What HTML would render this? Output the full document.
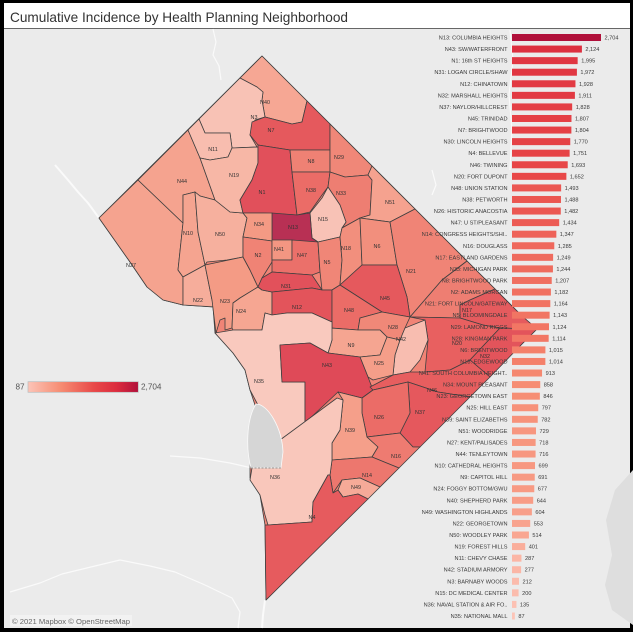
<!DOCTYPE html>
<html><head><meta charset="utf-8"><style>
html,body{margin:0;padding:0;background:#000;}
svg{display:block;}
.l{font-family:"Liberation Sans",Arial,sans-serif;font-size:5.6px;fill:#3a3a3a;text-anchor:end;}
.v{font-family:"Liberation Sans",Arial,sans-serif;font-size:5.6px;fill:#3a3a3a;}
.m{font-family:"Liberation Sans",Arial,sans-serif;font-size:5.4px;fill:#333;text-anchor:middle;}
</style></head><body>
<svg width="633" height="632" viewBox="0 0 633 632" xmlns="http://www.w3.org/2000/svg">
<defs>
<linearGradient id="lg" x1="0" x2="1" y1="0" y2="0">
<stop offset="0" stop-color="#fcc4b7"/><stop offset="0.3" stop-color="#f68c72"/><stop offset="0.6" stop-color="#e84848"/><stop offset="0.8" stop-color="#dc2c3e"/><stop offset="1" stop-color="#b0103a"/>
</linearGradient>
</defs>
<rect x="0" y="0" width="633" height="632" fill="#000"/>
<rect x="4" y="3" width="626" height="25" fill="#fff"/>
<rect x="4" y="28" width="626" height="1" fill="#666"/>
<rect x="4" y="29" width="626" height="599" fill="#ebebeb"/>
<text x="10" y="21.8" font-family="Liberation Sans, Arial, sans-serif" font-size="13.6" fill="#333" textLength="338" lengthAdjust="spacingAndGlyphs">Cumulative Incidence by Health Planning Neighborhood</text>

<!-- background features -->
<g fill="none" stroke="#fafafa" stroke-width="1.2" stroke-linejoin="round">
<path d="M213,29 L216,42 L213,55 L219,66 L221,80"/>
<path d="M55,165 L68,180 L78,192 L88,203 L99,218" stroke-width="2"/>
<path d="M10,592 L40,583 L62,574 L95,566 L120,560 L150,566 L175,572 L205,585 L232,598 L240,612 L238,628"/>
<path d="M170,456 L200,458 L230,463 L252,468"/>
<path d="M265,600 L263,615 L262,628" stroke-width="2"/>
<path d="M510,30 L513,60 L509,95 L512,130 L510,170"/>
<path d="M432,170 L436,185 L432,195"/>
</g>
<path d="M633,470 L615,490 L606,520 L612,555 L605,585 L612,610 L633,625 Z" fill="#dedede"/>

<!-- map -->
<g opacity="0.85" stroke="#222" stroke-width="0.8" stroke-linejoin="round">
<path d="M262,56 L522,316 L537,329 L522,344 L266,600 L265,525 L260,495 L250,478 L250,468 L252,440 L255,405 L250,390 L245,370 L233,353 L215,333 L213,307 L183,305 L163,300 L147,287 L130,262 L99,218 Z" fill="#f17362"/>
<polygon fill="#f7977f" points="99,218 138,180 183,223 178,270 183,277 183,305 163,300 147,287 130,262"/>
<polygon fill="#f79780" points="138,180 188,130 200,158 215,200 200,196 195,192 183,195 183,223"/>
<polygon fill="#f79881" points="183,195 195,192 198,232 205,265 183,277 178,270 183,223"/>
<polygon fill="#f9a691" points="195,192 200,196 215,200 230,212 243,213 247,218 243,237 243,257 227,260 207,262 205,265 198,232"/>
<polygon fill="#f8a38e" points="183,277 205,265 212,300 216,307 183,305"/>
<polygon fill="#f68e74" points="205,265 243,257 250,270 258,287 240,298 233,303 232,328 225,330 225,318 220,320 216,333 212,300"/>
<polygon fill="#f89a83" points="240,298 258,287 262,290 272,292 272,315 265,313 262,330 233,330 232,328 233,303"/>
<polygon fill="#f89c86" points="262,56 307,101 302,122 292,124 265,117 262,100 263,92 257,87 240,78"/>
<polygon fill="#fbbbac" points="240,78 257,87 263,92 262,100 265,117 255,120 250,135 257,147 232,148 230,133 205,133 199,119"/>
<polygon fill="#fbb6a5" points="188,130 199,119 205,133 230,133 232,148 228,157 210,160 200,158"/>
<polygon fill="#faae9b" points="200,158 210,160 228,157 232,148 258,147 258,163 252,180 240,200 243,213 230,212 215,200"/>
<polygon fill="#e54045" points="252,122 265,117 292,124 302,122 307,101 330,124 330,150 307,150 290,150 258,145 250,135"/>
<polygon fill="#e03642" points="258,145 290,150 292,172 297,215 263,213 243,213 240,200 252,180 258,163"/>
<polygon fill="#f06f60" points="290,150 307,150 330,150 330,172 292,172"/>
<polygon fill="#eb5751" points="292,172 330,172 328,187 322,195 310,212 297,215"/>
<polygon fill="#f27664" points="330,124 372,166 368,175 345,177 330,172 330,150"/>
<polygon fill="#ef6c5e" points="330,172 345,177 368,175 372,180 370,215 360,218 342,228 346,222 340,205 328,187"/>
<polygon fill="#f7967f" points="372,166 415,209 390,222 360,218 370,215 372,180 368,175"/>
<polygon fill="#fbbcad" points="310,213 322,198 328,187 340,205 346,222 342,228 340,237 318,242 312,238"/>
<polygon fill="#b0103a" points="272,213 297,215 310,213 312,238 318,242 272,241"/>
<polygon fill="#f68d73" points="243,213 272,213 272,241 243,237 247,218"/>
<polygon fill="#f17161" points="243,237 272,241 272,262 262,278 258,287 250,270 243,257"/>
<polygon fill="#f58870" points="272,240 292,240 292,260 272,260"/>
<polygon fill="#ec5b54" points="292,240 318,242 320,272 312,275 272,272 272,260 292,260"/>
<polygon fill="#f17563" points="318,242 340,237 342,260 340,285 332,290 322,290 320,272"/>
<polygon fill="#f4806a" points="342,228 360,218 362,265 340,285 342,260 340,237"/>
<polygon fill="#f4806a" points="360,218 390,222 397,265 362,265"/>
<polygon fill="#f17362" points="390,222 415,209 467,261 442,280 410,317 407,297 397,265"/>
<polygon fill="#e13742" points="258,287 262,278 272,272 312,275 322,290 312,288 272,292 262,290"/>
<polygon fill="#e23a43" points="272,292 312,288 322,290 332,290 332,322 312,313 287,313 272,315"/>
<polygon fill="#e54045" points="340,285 362,265 397,265 407,297 410,317 382,312"/>
<polygon fill="#eb5651" points="332,290 340,285 382,312 360,318 358,330 332,328"/>
<polygon fill="#f27765" points="382,312 410,317 405,328 400,340 387,337 380,330 358,330 360,318"/>
<polygon fill="#ef6b5e" points="467,261 495,289 470,300 460,305 460,318 410,317 442,280"/>
<polygon fill="#e54246" points="495,289 522,316 537,329 500,328 483,325 460,318 460,305 470,300"/>
<polygon fill="#e84848" points="410,317 460,318 483,325 500,328 470,360 450,370 425,372 428,340 425,320"/>
<polygon fill="#e23a43" points="500,328 537,329 522,344 490,377 470,360"/>
<polygon fill="#fbb6a6" points="405,328 425,320 428,340 420,360 410,372 393,375 395,355 400,340"/>
<polygon fill="#f79982" points="330,328 358,330 380,330 387,337 380,355 360,357 328,353 332,340"/>
<polygon fill="#f79179" points="360,357 380,355 387,337 400,340 395,355 393,375 373,380 368,377"/>
<polygon fill="#fcc4b7" points="215,333 233,330 262,330 265,313 272,315 287,313 312,313 332,322 332,340 328,353 310,343 280,345 282,382 305,382 305,423 280,440 280,468 252,468 255,440 258,405 250,390 245,370 233,353"/>
<polygon fill="#dd2f3f" points="280,345 310,343 328,353 360,357 368,377 373,390 362,398 338,392 305,423 305,382 282,382"/>
<polygon fill="#e74647" points="370,387 393,375 410,372 425,372 450,370 470,360 490,377 470,397 438,392 408,382 373,390"/>
<polygon fill="#e43f45" points="408,382 438,392 470,397 420,447 413,447 400,433 410,413"/>
<polygon fill="#eb5751" points="362,398 373,390 408,382 410,413 400,433 367,437 362,413"/>
<polygon fill="#f7927a" points="338,392 362,398 362,413 367,437 378,447 372,457 332,460 332,443 340,430 343,400"/>
<polygon fill="#ef685c" points="367,437 400,433 413,447 420,447 399,468 372,457 378,447"/>
<polygon fill="#ee6359" points="332,460 372,457 399,468 380,487 360,478 342,480 333,493 330,475"/>
<polygon fill="#f89f8a" points="342,480 360,478 380,487 368,499 358,494 343,497 338,490"/>
<polygon fill="#fcc1b3" points="280,440 337,398 343,400 340,430 332,443 332,460 330,475 328,475 313,502 312,522 268,525 265,515 260,495 250,480 252,468 280,468"/>
<polygon fill="#e64346" points="268,525 312,522 313,502 328,475 330,475 333,493 338,490 343,497 358,494 368,499 266,600 265,525"/>
</g>
<path d="M256,404 C268,404 282,428 283,452 L281,468 L251,468 C246,450 246,420 256,404 Z" fill="#d6d6d6" stroke="#fafafa" stroke-width="0.8"/>
<path d="M251,468 L281,468" stroke="#555" stroke-width="0.6" stroke-dasharray="2,1.5"/>

<!-- map labels -->
<g class="mlab">
<text class="m" x="265" y="104">N40</text><text class="m" x="254" y="119">N3</text><text class="m" x="271" y="132">N7</text>
<text class="m" x="213" y="151">N11</text><text class="m" x="339" y="159">N29</text><text class="m" x="311" y="163">N8</text>
<text class="m" x="234" y="177">N19</text><text class="m" x="182" y="183">N44</text><text class="m" x="262" y="194">N1</text>
<text class="m" x="311" y="192">N38</text><text class="m" x="341" y="195">N33</text><text class="m" x="390" y="204">N51</text>
<text class="m" x="188" y="235">N10</text><text class="m" x="220" y="236">N50</text><text class="m" x="259" y="226">N34</text>
<text class="m" x="293" y="229">N13</text><text class="m" x="323" y="221">N15</text><text class="m" x="131" y="267">N27</text>
<text class="m" x="258" y="257">N2</text><text class="m" x="279" y="251">N41</text><text class="m" x="302" y="257">N47</text>
<text class="m" x="327" y="264">N5</text><text class="m" x="346" y="250">N18</text><text class="m" x="377" y="248">N6</text>
<text class="m" x="411" y="273">N21</text><text class="m" x="198" y="302">N22</text><text class="m" x="225" y="303">N23</text>
<text class="m" x="241" y="313">N24</text><text class="m" x="286" y="288">N31</text><text class="m" x="297" y="309">N12</text>
<text class="m" x="385" y="300">N45</text><text class="m" x="349" y="312">N48</text><text class="m" x="393" y="329">N28</text>
<text class="m" x="401" y="341">N42</text><text class="m" x="351" y="347">N9</text><text class="m" x="379" y="365">N25</text>
<text class="m" x="327" y="367">N43</text><text class="m" x="457" y="345">N20</text><text class="m" x="485" y="358">N32</text>
<text class="m" x="467" y="312">N17</text><text class="m" x="259" y="383">N35</text><text class="m" x="275" y="479">N36</text>
<text class="m" x="350" y="432">N39</text><text class="m" x="379" y="419">N26</text><text class="m" x="420" y="414">N37</text>
<text class="m" x="432" y="392">N46</text><text class="m" x="396" y="458">N16</text><text class="m" x="367" y="477">N14</text>
<text class="m" x="356" y="489">N49</text><text class="m" x="312" y="519">N4</text>
</g>

<!-- legend -->
<text x="15.5" y="389.5" font-family="Liberation Sans, Arial, sans-serif" font-size="8.2" fill="#555">87</text>
<rect x="28" y="381.7" width="110.3" height="10.6" fill="url(#lg)" stroke="#bbb" stroke-width="0.7"/>
<text x="141" y="389.5" font-family="Liberation Sans, Arial, sans-serif" font-size="8.2" fill="#555">2,704</text>

<!-- attribution -->
<rect x="10" y="615" width="122" height="11" fill="#f4f4f4" opacity="0.8"/>
<text x="12" y="624" font-family="Liberation Sans, Arial, sans-serif" font-size="7.2" fill="#666" textLength="118" lengthAdjust="spacingAndGlyphs">© 2021 Mapbox © OpenStreetMap</text>

<!-- bars -->
<g transform="translate(0,37.5)"><rect x="512" y="-3.5" width="89" height="7" fill="#b0103a"/><text class="l" x="507.5" y="2">N13: COLUMBIA HEIGHTS</text><text class="v" x="604.5" y="2">2,704</text></g>
<g transform="translate(0,49.07)"><rect x="512" y="-3.5" width="69.91" height="7" fill="#dd2f3f"/><text class="l" x="507.5" y="2">N43: SW/WATERFRONT</text><text class="v" x="585.4" y="2">2,124</text></g>
<g transform="translate(0,60.64)"><rect x="512" y="-3.5" width="65.66" height="7" fill="#e03642"/><text class="l" x="507.5" y="2">N1: 16th ST HEIGHTS</text><text class="v" x="581.2" y="2">1,995</text></g>
<g transform="translate(0,72.21)"><rect x="512" y="-3.5" width="64.91" height="7" fill="#e13742"/><text class="l" x="507.5" y="2">N31: LOGAN CIRCLE/SHAW</text><text class="v" x="580.4" y="2">1,972</text></g>
<g transform="translate(0,83.78)"><rect x="512" y="-3.5" width="63.46" height="7" fill="#e23a43"/><text class="l" x="507.5" y="2">N12: CHINATOWN</text><text class="v" x="579" y="2">1,928</text></g>
<g transform="translate(0,95.35)"><rect x="512" y="-3.5" width="62.9" height="7" fill="#e23a43"/><text class="l" x="507.5" y="2">N32: MARSHALL HEIGHTS</text><text class="v" x="578.4" y="2">1,911</text></g>
<g transform="translate(0,106.92)"><rect x="512" y="-3.5" width="60.17" height="7" fill="#e43f45"/><text class="l" x="507.5" y="2">N37: NAYLOR/HILLCREST</text><text class="v" x="575.7" y="2">1,828</text></g>
<g transform="translate(0,118.49)"><rect x="512" y="-3.5" width="59.48" height="7" fill="#e54045"/><text class="l" x="507.5" y="2">N45: TRINIDAD</text><text class="v" x="575" y="2">1,807</text></g>
<g transform="translate(0,130.06)"><rect x="512" y="-3.5" width="59.38" height="7" fill="#e54045"/><text class="l" x="507.5" y="2">N7: BRIGHTWOOD</text><text class="v" x="574.9" y="2">1,804</text></g>
<g transform="translate(0,141.63)"><rect x="512" y="-3.5" width="58.26" height="7" fill="#e54246"/><text class="l" x="507.5" y="2">N30: LINCOLN HEIGHTS</text><text class="v" x="573.8" y="2">1,770</text></g>
<g transform="translate(0,153.2)"><rect x="512" y="-3.5" width="57.63" height="7" fill="#e64346"/><text class="l" x="507.5" y="2">N4: BELLEVUE</text><text class="v" x="573.1" y="2">1,751</text></g>
<g transform="translate(0,164.77)"><rect x="512" y="-3.5" width="55.72" height="7" fill="#e74647"/><text class="l" x="507.5" y="2">N46: TWINING</text><text class="v" x="571.2" y="2">1,693</text></g>
<g transform="translate(0,176.34)"><rect x="512" y="-3.5" width="54.37" height="7" fill="#e84848"/><text class="l" x="507.5" y="2">N20: FORT DUPONT</text><text class="v" x="569.9" y="2">1,652</text></g>
<g transform="translate(0,187.91)"><rect x="512" y="-3.5" width="49.14" height="7" fill="#eb5651"/><text class="l" x="507.5" y="2">N48: UNION STATION</text><text class="v" x="564.6" y="2">1,493</text></g>
<g transform="translate(0,199.48)"><rect x="512" y="-3.5" width="48.98" height="7" fill="#eb5751"/><text class="l" x="507.5" y="2">N38: PETWORTH</text><text class="v" x="564.5" y="2">1,488</text></g>
<g transform="translate(0,211.05)"><rect x="512" y="-3.5" width="48.78" height="7" fill="#eb5751"/><text class="l" x="507.5" y="2">N26: HISTORIC ANACOSTIA</text><text class="v" x="564.3" y="2">1,482</text></g>
<g transform="translate(0,222.62)"><rect x="512" y="-3.5" width="47.2" height="7" fill="#ec5b54"/><text class="l" x="507.5" y="2">N47: U ST/PLEASANT</text><text class="v" x="562.7" y="2">1,434</text></g>
<g transform="translate(0,234.19)"><rect x="512" y="-3.5" width="44.34" height="7" fill="#ee6359"/><text class="l" x="507.5" y="2">N14: CONGRESS HEIGHTS/SHI..</text><text class="v" x="559.8" y="2">1,347</text></g>
<g transform="translate(0,245.76)"><rect x="512" y="-3.5" width="42.29" height="7" fill="#ef685c"/><text class="l" x="507.5" y="2">N16: DOUGLASS</text><text class="v" x="557.8" y="2">1,285</text></g>
<g transform="translate(0,257.33)"><rect x="512" y="-3.5" width="41.11" height="7" fill="#ef6b5e"/><text class="l" x="507.5" y="2">N17: EASTLAND GARDENS</text><text class="v" x="556.6" y="2">1,249</text></g>
<g transform="translate(0,268.9)"><rect x="512" y="-3.5" width="40.94" height="7" fill="#ef6c5e"/><text class="l" x="507.5" y="2">N33: MICHIGAN PARK</text><text class="v" x="556.4" y="2">1,244</text></g>
<g transform="translate(0,280.47)"><rect x="512" y="-3.5" width="39.73" height="7" fill="#f06f60"/><text class="l" x="507.5" y="2">N8: BRIGHTWOOD PARK</text><text class="v" x="555.2" y="2">1,207</text></g>
<g transform="translate(0,292.04)"><rect x="512" y="-3.5" width="38.9" height="7" fill="#f17161"/><text class="l" x="507.5" y="2">N2: ADAMS MORGAN</text><text class="v" x="554.4" y="2">1,182</text></g>
<g transform="translate(0,303.61)"><rect x="512" y="-3.5" width="38.31" height="7" fill="#f17362"/><text class="l" x="507.5" y="2">N21: FORT LINCOLN/GATEWAY</text><text class="v" x="553.8" y="2">1,164</text></g>
<g transform="translate(0,315.18)"><rect x="512" y="-3.5" width="37.62" height="7" fill="#f17563"/><text class="l" x="507.5" y="2">N5: BLOOMINGDALE</text><text class="v" x="553.1" y="2">1,143</text></g>
<g transform="translate(0,326.75)"><rect x="512" y="-3.5" width="37" height="7" fill="#f27664"/><text class="l" x="507.5" y="2">N29: LAMOND RIGGS</text><text class="v" x="552.5" y="2">1,124</text></g>
<g transform="translate(0,338.32)"><rect x="512" y="-3.5" width="36.67" height="7" fill="#f27765"/><text class="l" x="507.5" y="2">N28: KINGMAN PARK</text><text class="v" x="552.2" y="2">1,114</text></g>
<g transform="translate(0,349.89)"><rect x="512" y="-3.5" width="33.41" height="7" fill="#f4806a"/><text class="l" x="507.5" y="2">N6: BRENTWOOD</text><text class="v" x="548.9" y="2">1,015</text></g>
<g transform="translate(0,361.46)"><rect x="512" y="-3.5" width="33.37" height="7" fill="#f4806a"/><text class="l" x="507.5" y="2">N18: EDGEWOOD</text><text class="v" x="548.9" y="2">1,014</text></g>
<g transform="translate(0,373.03)"><rect x="512" y="-3.5" width="30.05" height="7" fill="#f58870"/><text class="l" x="507.5" y="2">N41: SOUTH COLUMBIA HEIGHT..</text><text class="v" x="545.6" y="2">913</text></g>
<g transform="translate(0,384.6)"><rect x="512" y="-3.5" width="28.24" height="7" fill="#f68d73"/><text class="l" x="507.5" y="2">N34: MOUNT PLEASANT</text><text class="v" x="543.7" y="2">858</text></g>
<g transform="translate(0,396.17)"><rect x="512" y="-3.5" width="27.85" height="7" fill="#f68e74"/><text class="l" x="507.5" y="2">N23: GEORGETOWN EAST</text><text class="v" x="543.4" y="2">846</text></g>
<g transform="translate(0,407.74)"><rect x="512" y="-3.5" width="26.23" height="7" fill="#f79179"/><text class="l" x="507.5" y="2">N25: HILL EAST</text><text class="v" x="541.7" y="2">797</text></g>
<g transform="translate(0,419.31)"><rect x="512" y="-3.5" width="25.74" height="7" fill="#f7927a"/><text class="l" x="507.5" y="2">N39: SAINT ELIZABETHS</text><text class="v" x="541.2" y="2">782</text></g>
<g transform="translate(0,430.88)"><rect x="512" y="-3.5" width="23.99" height="7" fill="#f7967f"/><text class="l" x="507.5" y="2">N51: WOODRIDGE</text><text class="v" x="539.5" y="2">729</text></g>
<g transform="translate(0,442.45)"><rect x="512" y="-3.5" width="23.63" height="7" fill="#f7977f"/><text class="l" x="507.5" y="2">N27: KENT/PALISADES</text><text class="v" x="539.1" y="2">718</text></g>
<g transform="translate(0,454.02)"><rect x="512" y="-3.5" width="23.57" height="7" fill="#f79780"/><text class="l" x="507.5" y="2">N44: TENLEYTOWN</text><text class="v" x="539.1" y="2">716</text></g>
<g transform="translate(0,465.59)"><rect x="512" y="-3.5" width="23.01" height="7" fill="#f79881"/><text class="l" x="507.5" y="2">N10: CATHEDRAL HEIGHTS</text><text class="v" x="538.5" y="2">699</text></g>
<g transform="translate(0,477.16)"><rect x="512" y="-3.5" width="22.74" height="7" fill="#f79982"/><text class="l" x="507.5" y="2">N9: CAPITOL HILL</text><text class="v" x="538.2" y="2">691</text></g>
<g transform="translate(0,488.73)"><rect x="512" y="-3.5" width="22.28" height="7" fill="#f89a83"/><text class="l" x="507.5" y="2">N24: FOGGY BOTTOM/GWU</text><text class="v" x="537.8" y="2">677</text></g>
<g transform="translate(0,500.3)"><rect x="512" y="-3.5" width="21.2" height="7" fill="#f89c86"/><text class="l" x="507.5" y="2">N40: SHEPHERD PARK</text><text class="v" x="536.7" y="2">644</text></g>
<g transform="translate(0,511.87)"><rect x="512" y="-3.5" width="19.88" height="7" fill="#f89f8a"/><text class="l" x="507.5" y="2">N49: WASHINGTON HIGHLANDS</text><text class="v" x="535.4" y="2">604</text></g>
<g transform="translate(0,523.44)"><rect x="512" y="-3.5" width="18.2" height="7" fill="#f8a38e"/><text class="l" x="507.5" y="2">N22: GEORGETOWN</text><text class="v" x="533.7" y="2">553</text></g>
<g transform="translate(0,535.01)"><rect x="512" y="-3.5" width="16.92" height="7" fill="#f9a691"/><text class="l" x="507.5" y="2">N50: WOODLEY PARK</text><text class="v" x="532.4" y="2">514</text></g>
<g transform="translate(0,546.58)"><rect x="512" y="-3.5" width="13.2" height="7" fill="#faae9b"/><text class="l" x="507.5" y="2">N19: FOREST HILLS</text><text class="v" x="528.7" y="2">401</text></g>
<g transform="translate(0,558.15)"><rect x="512" y="-3.5" width="9.45" height="7" fill="#fbb6a5"/><text class="l" x="507.5" y="2">N11: CHEVY CHASE</text><text class="v" x="525" y="2">287</text></g>
<g transform="translate(0,569.72)"><rect x="512" y="-3.5" width="9.12" height="7" fill="#fbb6a6"/><text class="l" x="507.5" y="2">N42: STADIUM ARMORY</text><text class="v" x="524.6" y="2">277</text></g>
<g transform="translate(0,581.29)"><rect x="512" y="-3.5" width="6.98" height="7" fill="#fbbbac"/><text class="l" x="507.5" y="2">N3: BARNABY WOODS</text><text class="v" x="522.5" y="2">212</text></g>
<g transform="translate(0,592.86)"><rect x="512" y="-3.5" width="6.58" height="7" fill="#fbbcad"/><text class="l" x="507.5" y="2">N15: DC MEDICAL CENTER</text><text class="v" x="522.1" y="2">200</text></g>
<g transform="translate(0,604.43)"><rect x="512" y="-3.5" width="4.44" height="7" fill="#fcc1b3"/><text class="l" x="507.5" y="2">N36: NAVAL STATION &amp; AIR FO..</text><text class="v" x="519.9" y="2">135</text></g>
<g transform="translate(0,616)"><rect x="512" y="-3.5" width="2.86" height="7" fill="#fcc4b7"/><text class="l" x="507.5" y="2">N35: NATIONAL MALL</text><text class="v" x="518.4" y="2">87</text></g>
</svg>
</body></html>
